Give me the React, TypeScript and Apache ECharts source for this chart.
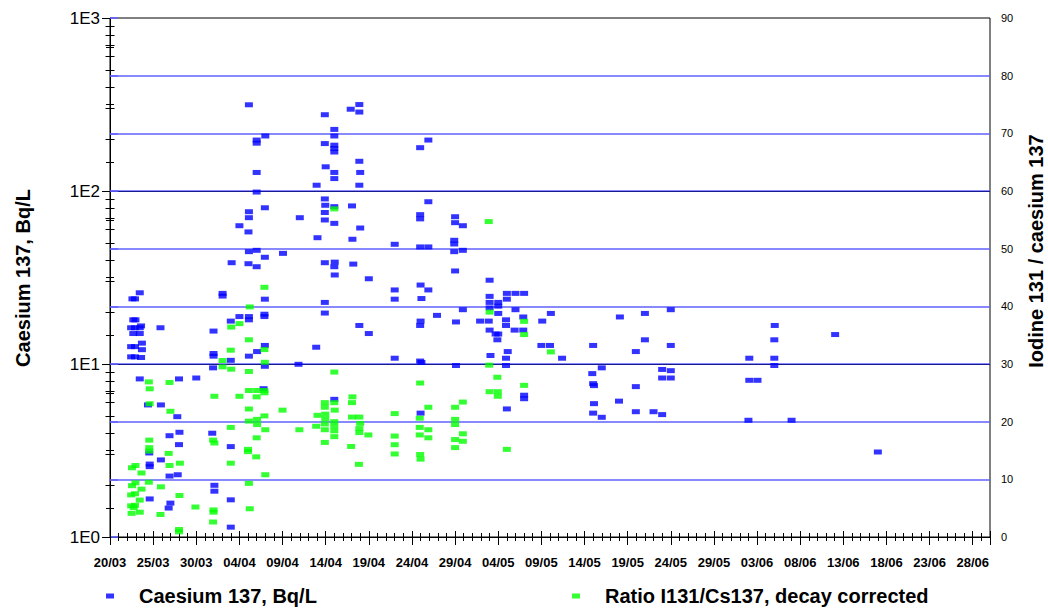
import React, { useEffect, useRef } from 'react';
import * as echarts from 'echarts';

// Days are counted from 20 March 2011 (day 0); the x axis ends on 30 June (day 102).
const START_UTC = Date.UTC(2011, 2, 20);
const X_MIN_DAY = 0;
const X_MAX_DAY = 102;
const X_LABEL_STEP = 5;
const X_LAST_LABEL_DAY = 100;

const seriesNames = ['Caesium 137, Bq/L', 'Ratio I131/Cs137, decay corrected'];
const axisTitles = ['Caesium 137, Bq/L', 'Iodine 131 / caesium 137'];

// Left log axis: 1E0 .. 1E3 with minor ticks at 2..9 of each decade
const leftMin = 1;
const leftMax = 1000;
const logMinorTicks = [2, 3, 4, 5, 6, 7, 8, 9, 20, 30, 40, 50, 60, 70, 80, 90, 200, 300, 400, 500, 600, 700, 800, 900];
// Right axis: 0 .. 90 step 10
const rightMin = 0;
const rightMax = 90;
const rightStep = 10;

// [day since 20/03, Caesium 137 Bq/L]
const caesium: number[][] = [
  [3.45, 25.8], [2.6, 23.8], [2.9, 23.8], [2.7, 18], [2.95, 18], [3.6, 16.6], [2.45, 16.2], [2.9, 16.2], [3.45, 16.2],
  [5.85, 16.2], [2.7, 15.0], [3.45, 15.0], [3.7, 13.2], [2.45, 12.6], [2.9, 12.6], [3.7, 12.1], [2.45, 11.0], [2.9, 11.0],
  [3.6, 10.9], [3.45, 8.2], [8.0, 8.2], [10.0, 8.3], [4.4, 5.8], [5.9, 5.8], [7.8, 4.96], [11.85, 3.98], [6.9, 3.85],
  [8.05, 4.03], [8.0, 3.42], [14.0, 3.33], [4.55, 3.06], [5.9, 2.79], [4.6, 2.64], [4.6, 2.55], [6.9, 2.25], [7.85, 2.29],
  [12.1, 1.99], [12.1, 1.84], [4.6, 1.66], [14.0, 1.64], [7.0, 1.57], [6.8, 1.47], [14.0, 1.14],
  [12.0, 15.5], [12.0, 11.5], [12.0, 11.1], [11.95, 9.5],
  [13.05, 25.6], [13.05, 24.7],
  [14.0, 17.7], [14.0, 10.5], [14.1, 38.5],
  [15.0, 63], [15.0, 18.8],
  [16.1, 315], [16.1, 75.9], [16.1, 70.1], [16.05, 58], [16.1, 44.6], [16.05, 38], [16.1, 18.8], [16.1, 18.0], [16.1, 11.1],
  [17.0, 197], [17.0, 189], [17.0, 128], [17.0, 98.6], [17.0, 45.4], [17.0, 36.5], [17.05, 11.8],
  [18.0, 208], [17.95, 80], [17.95, 41.4], [17.95, 23.7], [17.9, 19.4], [17.9, 18.8], [17.95, 12.8], [17.95, 9.7], [17.8, 7.2],
  [20.05, 43.6],
  [22.0, 70.1], [21.85, 9.96],
  [23.95, 108], [24.05, 53.7], [23.9, 12.5],
  [24.9, 276], [24.9, 188], [25.0, 138], [24.9, 90], [24.95, 82.7], [24.9, 75.1], [24.9, 68], [24.9, 38.5], [24.9, 22.7], [24.9, 19.7],
  [26.0, 227], [26.0, 208], [26.0, 184], [26.0, 176], [26.0, 168], [26.0, 128], [26.0, 118], [26.0, 81.2], [26.0, 65],
  [26.05, 38.8], [26.0, 36.5], [26.05, 32.7], [26.0, 6.25],
  [27.9, 297], [28.05, 82], [28.1, 52.6], [28.2, 37.8],
  [28.9, 316], [28.9, 286], [28.9, 148.5], [29.0, 128], [28.9, 108], [29.0, 61.1], [28.9, 16.7],
  [30.0, 31.1], [30.0, 15.0],
  [33.0, 49.2], [33.0, 26.8], [33.0, 23.7], [33.0, 10.8],
  [35.95, 178], [35.95, 73], [35.95, 69], [35.95, 47.5], [36.0, 28.6], [36.1, 23.9], [36.0, 17.7], [35.95, 16.7],
  [35.95, 10.4], [36.1, 10.2], [36.0, 5.2],
  [36.9, 197], [36.9, 86.7], [36.9, 47.5], [36.9, 26.8],
  [37.9, 19.1],
  [40.0, 71], [40.0, 65.6], [39.9, 51.9], [39.9, 49.4], [39.9, 44.6], [40.0, 34.5], [40.1, 17.5], [40.1, 9.8],
  [40.9, 63], [40.9, 45.4], [40.9, 20.6],
  [42.9, 17.7],
  [44.0, 30.5], [44.0, 24.6], [44.0, 22.7], [44.0, 21.1], [43.9, 17.7], [44.0, 15.7], [44.1, 11.2],
  [45.0, 22.7], [45.0, 21.6], [45.0, 19.6], [44.7, 14.9], [45.0, 14.9], [44.9, 13.8],
  [46.0, 25.6], [46.0, 23.7], [45.9, 18.0], [45.9, 16.7], [46.1, 11.8], [45.9, 10.8], [45.9, 9.8], [46.0, 5.5],
  [47.0, 25.6], [47.0, 20.6], [46.9, 15.7],
  [48.0, 25.6], [47.9, 18.7], [47.9, 15.7], [48.0, 6.6], [48.0, 6.3],
  [50.1, 17.7], [50.0, 12.8], [51.1, 19.6], [51.0, 12.8], [52.4, 10.8],
  [56.0, 12.8], [55.9, 8.8], [56.0, 7.7], [56.1, 7.5], [56.1, 5.9], [56.0, 5.2],
  [57.0, 9.5], [57.0, 4.92],
  [59.1, 18.7], [59.0, 6.1],
  [60.95, 11.8], [60.95, 7.4], [60.95, 5.3],
  [62.0, 19.6], [62.0, 13.8],
  [63.0, 5.3],
  [64.0, 9.3], [64.0, 8.3], [64.0, 5.1],
  [65.0, 20.6], [65.0, 12.8], [65.0, 9.15], [65.0, 8.3],
  [74.1, 10.8], [74.1, 8.05], [74.0, 4.73], [75.05, 8.05],
  [77.05, 16.7], [77.0, 13.8], [77.0, 10.8], [77.0, 9.8],
  [79.0, 4.73], [84.05, 14.8], [89.0, 3.1],
];

// [day since 20/03, ratio I131/Cs137 decay corrected]
const ratio: number[][] = [
  [4.5, 26.9], [6.9, 26.8], [4.6, 25.7], [4.6, 23.1], [7.0, 21.8], [4.55, 16.8], [4.55, 15.5], [4.55, 14.9], [6.8, 14.5],
  [8.1, 12.8], [6.9, 12.4], [2.95, 12.4], [2.55, 12.0], [3.65, 11.1], [4.5, 9.5], [2.95, 9.4], [2.55, 8.9], [5.9, 8.7],
  [3.65, 8.3], [2.9, 7.5], [2.45, 7.3], [8.05, 7.2], [3.45, 6.4], [2.9, 5.5], [2.45, 5.4], [2.75, 5.1], [9.9, 5.2],
  [3.45, 4.3], [2.5, 4.1], [5.85, 3.9], [8.0, 1.3], [8.0, 0.9],
  [12.1, 24.4], [11.95, 16.8], [12.1, 16.3], [12.0, 4.7], [12.0, 4.3], [11.95, 2.6],
  [13.05, 30.6], [13.05, 29.5],
  [14.05, 36.4], [14.0, 32.4], [14.05, 29.1], [14.0, 19.0], [14.0, 12.8],
  [15.0, 37.0], [15.0, 24.4],
  [16.2, 39.9], [16.1, 34.2], [16.1, 28.7], [16.1, 25.4], [16.1, 22.2], [16.1, 20.1], [16.0, 15.2], [16.0, 14.8], [16.1, 9.3], [16.2, 4.9],
  [17.05, 25.4], [17.0, 24.3], [17.05, 20.4], [17.05, 19.5], [17.0, 17.2], [16.95, 13.9],
  [17.9, 43.3], [17.9, 32.5], [17.95, 30.3], [17.9, 25.4], [17.9, 25.0], [17.9, 21.0], [18.0, 18.6], [18.0, 10.8],
  [20.0, 22.0], [21.95, 18.6], [24.05, 21.1], [23.9, 19.2],
  [24.9, 23.3], [24.9, 22.5], [24.95, 21.3], [24.95, 20.5], [24.9, 19.6], [24.9, 18.6], [24.9, 16.4],
  [26.0, 56.9], [26.0, 28.6], [26.0, 23.3], [26.05, 22.0], [26.0, 20.0], [26.0, 19.2], [26.0, 18.4], [26.0, 17.4],
  [28.1, 24.3], [28.05, 23.3], [28.05, 20.8], [27.95, 15.7],
  [28.9, 20.8], [29.0, 19.7], [28.9, 18.8], [28.9, 18.1], [28.85, 12.6],
  [29.95, 17.7],
  [33.0, 21.4], [33.0, 17.5], [33.0, 16.0], [33.0, 14.4],
  [35.95, 26.7], [35.9, 20.6], [35.9, 19.0], [35.9, 17.7], [35.95, 14.3], [36.0, 13.5],
  [36.9, 22.5], [36.9, 18.6], [36.9, 17.2],
  [40.0, 22.5], [40.0, 20.4], [40.0, 19.5], [40.0, 16.9], [40.0, 15.5],
  [40.9, 23.4], [40.9, 17.9], [40.9, 16.6],
  [43.9, 54.7], [44.0, 39.0], [43.95, 29.8], [44.0, 25.2],
  [44.9, 27.7], [44.95, 25.2], [44.95, 24.4],
  [46.0, 15.2],
  [48.0, 37.4], [48.0, 35.1], [48.0, 26.3],
  [51.1, 32.1],
];

const FONT = '"Liberation Sans", Arial, Helvetica, sans-serif';
const BLUE = '#0000ff';
const GREEN = '#00ff00';
const GRID_BLUE = '#6262ff';
const DECADE_LINE = '#1a1a90';

function dayLabel(d: number): string {
  const dt = new Date(START_UTC + d * 86400000);
  const dd = String(dt.getUTCDate()).padStart(2, '0');
  const mm = String(dt.getUTCMonth() + 1).padStart(2, '0');
  return dd + '/' + mm;
}

function xAxisBase(extra: any) {
  return {
    type: 'value',
    min: X_MIN_DAY,
    max: X_MAX_DAY,
    position: 'bottom',
    splitLine: { show: false },
    axisLine: { show: false },
    axisLabel: { show: false },
    ...extra,
  };
}

function legendFor(name: string, left: number) {
  return {
    data: [{ name, icon: 'rect' }],
    left,
    top: 586,
    padding: 0,
    itemWidth: 8,
    itemHeight: 5,
    selectedMode: false,
    textStyle: { fontFamily: FONT, fontSize: 20, fontWeight: 'bold', color: '#000', padding: [0, 0, 0, 20] },
  };
}

export default function App() {
  const ref = useRef<HTMLDivElement>(null);

  useEffect(() => {
    if (!ref.current) return;
    const chart = echarts.init(ref.current, null, { renderer: 'svg' });

    const option: any = {
      animation: false,
      backgroundColor: '#ffffff',
      textStyle: { fontFamily: FONT },
      grid: {
        left: 110,
        right: 58,
        top: 18,
        bottom: 72,
        show: true,
        borderColor: '#000',
        borderWidth: 1,
        backgroundColor: 'transparent',
        outerBoundsMode: 'none',
      },
      legend: [legendFor(seriesNames[0], 106), legendFor(seriesNames[1], 572)],
      xAxis: [
        xAxisBase({
          interval: 1,
          axisLine: { show: true, lineStyle: { color: '#000', width: 1 } },
          axisTick: { show: true, length: 4, lineStyle: { color: '#000' } },
          axisLabel: {
            show: true,
            margin: 19,
            fontFamily: FONT,
            fontSize: 13,
            fontWeight: 'bold',
            color: '#000',
            showMaxLabel: false,
            formatter: (v: number) =>
              v % X_LABEL_STEP === 0 && v <= X_LAST_LABEL_DAY ? dayLabel(v) : '',
          },
        }),
        xAxisBase({
          interval: 1,
          axisTick: { show: true, inside: true, length: 4, lineStyle: { color: '#000' } },
        }),
        xAxisBase({
          interval: X_LABEL_STEP,
          axisTick: { show: true, length: 8, lineStyle: { color: '#000' } },
        }),
        xAxisBase({
          interval: X_LABEL_STEP,
          axisTick: { show: true, inside: true, length: 6, lineStyle: { color: '#000' } },
        }),
      ],
      yAxis: [
        {
          type: 'value',
          position: 'right',
          min: rightMin,
          max: rightMax,
          interval: rightStep,
          axisLine: { show: true, lineStyle: { color: '#000', width: 1 } },
          axisTick: { show: true, length: 8, lineStyle: { color: GRID_BLUE, width: 1.6 } },
          minorTick: { show: true, splitNumber: 2, length: 4, lineStyle: { color: '#000' } },
          axisLabel: { fontFamily: FONT, fontSize: 11, color: '#000', margin: 11 },
          splitLine: { show: true, showMinLine: false, showMaxLine: false, lineStyle: { color: GRID_BLUE, width: 1.6 } },
        },
        {
          type: 'log',
          logBase: 10,
          position: 'left',
          min: leftMin,
          max: leftMax,
          axisLine: { show: true, lineStyle: { color: '#000', width: 1 } },
          axisTick: { show: true, length: 8, lineStyle: { color: '#000' } },
          axisLabel: {
            fontFamily: FONT,
            fontSize: 17,
            color: '#000',
            margin: 10,
            formatter: (v: number) => '1E' + Math.round(Math.log10(v)),
          },
          splitLine: { show: true, showMinLine: false, showMaxLine: false, lineStyle: { color: DECADE_LINE, width: 1 } },
        },
        {
          type: 'value',
          position: 'right',
          min: rightMin,
          max: rightMax,
          interval: rightStep,
          axisLine: { show: false },
          axisLabel: { show: false },
          axisTick: { show: false, inside: true },
          minorTick: { show: true, splitNumber: 2, length: 4, lineStyle: { color: '#000' } },
          splitLine: { show: false },
        },
      ],
      graphic: [
        {
          type: 'text',
          x: 23,
          y: 278,
          rotation: Math.PI / 2,
          style: {
            text: axisTitles[0],
            fontFamily: FONT,
            fontSize: 20,
            fontWeight: 'bold',
            fill: '#000',
            align: 'center',
            verticalAlign: 'middle',
          },
        },
        {
          type: 'text',
          x: 1036,
          y: 251,
          rotation: Math.PI / 2,
          style: {
            text: axisTitles[1],
            fontFamily: FONT,
            fontSize: 20,
            fontWeight: 'bold',
            fill: '#000',
            align: 'center',
            verticalAlign: 'middle',
          },
        },
      ],
      series: [
        {
          type: 'custom',
          name: 'log minor ticks',
          xAxisIndex: 0,
          yAxisIndex: 1,
          silent: true,
          clip: false,
          data: logMinorTicks.map((v) => [X_MIN_DAY, v]),
          renderItem: (params: any, api: any) => {
            const p = api.coord([X_MIN_DAY, api.value(1)]);
            const y = Math.round(p[1]) + 0.5;
            const x = Math.round(p[0]) + 0.5;
            return {
              type: 'line',
              shape: { x1: x - 5, y1: y, x2: x + 4, y2: y },
              style: { stroke: '#000', lineWidth: 1 },
            };
          },
        },
        {
          type: 'scatter',
          name: seriesNames[0],
          xAxisIndex: 0,
          yAxisIndex: 1,
          symbol: 'rect',
          symbolSize: [8, 5],
          itemStyle: { color: BLUE },
          data: caesium,
        },
        {
          type: 'scatter',
          name: seriesNames[1],
          xAxisIndex: 0,
          yAxisIndex: 0,
          symbol: 'rect',
          symbolSize: [8, 5],
          itemStyle: { color: GREEN },
          data: ratio,
        },
      ],
    };

    chart.setOption(option);
    return () => chart.dispose();
  }, []);

  return (
    <div
      ref={ref}
      style={{ position: 'fixed', left: 0, top: 0, width: 1048, height: 609, background: '#fff' }}
    />
  );
}
